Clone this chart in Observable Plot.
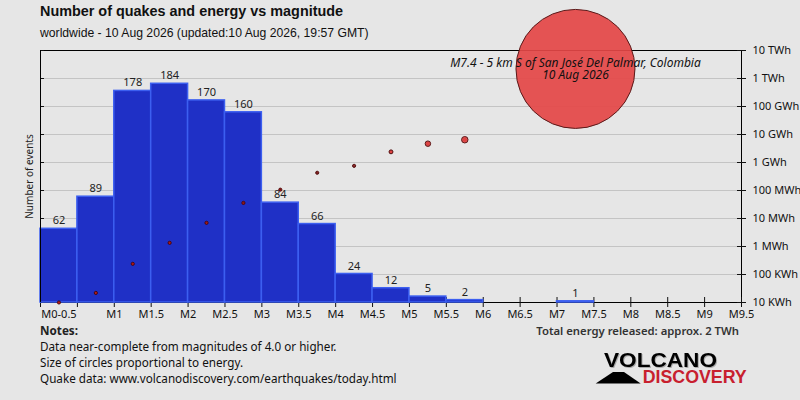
<!DOCTYPE html>
<html><head><meta charset="utf-8">
<script src="https://cdn.jsdelivr.net/npm/d3@7"></script>
<script src="https://cdn.jsdelivr.net/npm/@observablehq/plot@0.6"></script>
<style>
body{margin:0;background:#e6e6e6;font-family:"Noto Sans",sans-serif;}
#wrap{position:relative;width:800px;height:400px;overflow:hidden;background:#e6e6e6}
#wrap svg.plotlayer{position:absolute;left:0;top:0}
.t{position:absolute;white-space:nowrap;color:#111;line-height:1}
</style></head><body>
<div id="wrap">
  <div class="t" style="left:40px;top:4px;font-family:'Liberation Sans',sans-serif;font-weight:bold;font-size:14.4px">Number of quakes and energy vs magnitude</div>
  <div class="t" style="left:40px;top:27px;font-family:'Liberation Sans',sans-serif;font-size:12.2px">worldwide - 10 Aug 2026 (updated:10 Aug 2026, 19:57 GMT)</div>
  <div class="t" style="left:40px;top:325px;font-size:11.7px;font-weight:bold;color:#222">Notes:</div>
  <div class="t" style="left:40px;top:341px;font-size:11.7px">Data near-complete from magnitudes of 4.0 or higher.</div>
  <div class="t" style="left:40px;top:357px;font-size:11.7px">Size of circles proportional to energy.</div>
  <div class="t" style="left:40px;top:373px;font-size:11.7px">Quake data: www.volcanodiscovery.com/earthquakes/today.html</div>
  <div class="t" style="right:61px;top:325px;font-size:11.3px;font-weight:600;color:#333">Total energy released: approx. 2 TWh</div>
  <svg style="position:absolute;left:580px;top:340px" width="180" height="55" viewBox="580 340 180 55">
    <polygon points="595.7,383.6 613,372 624,372 640.7,383.6" fill="#000"/>
    <text x="604" y="366.7" style="filter:drop-shadow(1px 1px 0 #aaa)" font-family="Liberation Sans" font-weight="bold" font-size="21" fill="#000" textLength="113" lengthAdjust="spacingAndGlyphs">VOLCANO</text>
    <text x="642.7" y="383.4" font-family="Liberation Sans" font-weight="bold" font-size="17.6" fill="#c8202e" textLength="104" lengthAdjust="spacingAndGlyphs">DISCOVERY</text>
  </svg>
</div>
<script>
// ---- data ----
const magLow  = [0, 0.5, 1, 1.5, 2, 2.5, 3, 3.5, 4, 4.5, 5, 5.5, 7];
const magHigh = [0.5, 1, 1.5, 2, 2.5, 3, 3.5, 4, 4.5, 5, 5.5, 6, 7.5];
const counts  = [62, 89, 178, 184, 170, 160, 84, 66, 24, 12, 5, 2, 1];

const energyMag = [0.25, 0.75, 1.25, 1.75, 2.25, 2.75, 3.25, 3.75, 4.25, 4.75, 5.25, 5.75, 7.25];
const energyKWh = [10, 22, 240, 1350, 7000, 36000, 107000, 430000, 760000, 2.4e6, 4.7e6, 6.5e6, 2.2e9];

const quakeMag = [7.25];
const quakeEnergy = [2.2e9];
const quakeLabel = ["M7.4 - 5 km S of San José Del Palmar, Colombia\n10 Aug 2026"];

const xTicks = [0,0.5,1,1.5,2,2.5,3,3.5,4,4.5,5,5.5,6,6.5,7,7.5,8,8.5,9,9.5];
const xLabelPos = [0.25,1,1.5,2,2.5,3,3.5,4,4.5,5,5.5,6,6.5,7,7.5,8,8.5,9,9.5];
const xLabels = ["M0-0.5","M1","M1.5","M2","M2.5","M3","M3.5","M4","M4.5","M5","M5.5","M6","M6.5","M7","M7.5","M8","M8.5","M9","M9.5"];

const energyTicks = [10,100,1e3,1e4,1e5,1e6,1e7,1e8,1e9,1e10];
const energyTickLabels = ["10 KWh","100 KWh","1 MWh","10 MWh","100 MWh","1 GWh","10 GWh","100 GWh","1 TWh","10 TWh"];

// ---- layout ----
const common = {
  width: 800, height: 400,
  marginTop: 50, marginRight: 59, marginBottom: 98, marginLeft: 40,
  className: "plotlayer",
  style: {background: "transparent", overflow: "visible", fontFamily: "Noto Sans", fontSize: "11px", color: "#111"}
};
const xOpt = {domain: [0, 9.5], axis: null};
const yEnergy = {type: "log", domain: [10, 1e10], axis: null};

const wrap = document.getElementById("wrap");

// layer 1: grid, frame, energy axis, x ticks
const layer1 = Plot.plot({
  ...common,
  x: xOpt, y: yEnergy,
  marks: [
    Plot.gridY(energyTicks.slice(1, -1), {stroke: "#c4c4c4", strokeOpacity: 1}),
    Plot.frame({stroke: "#000"}),
    Plot.axisY(energyTicks, {anchor: "right", tickSize: 0, tickPadding: 11, fontSize: 11, label: null,
      tickFormat: d => energyTickLabels[energyTicks.indexOf(d)]}),
    Plot.axisY(energyTicks, {anchor: "right", tickSize: 9, insetRight: 5, fill: "none", label: null}),
    Plot.axisY(energyTicks, {anchor: "left", tickSize: 4, insetLeft: 4, fill: "none", label: null}),
    Plot.axisX(xTicks, {anchor: "bottom", tickSize: 10, insetBottom: 5, fill: "none", label: null})
  ]
});
wrap.appendChild(layer1);

// layer 2: bars
const barMid = magLow.map((m, i) => (m + magHigh[i]) / 2);
const layer2 = Plot.plot({
  ...common,
  x: xOpt, y: {domain: [0, 212], axis: null},
  marks: [
    Plot.rectY(counts, {x1: magLow, x2: magHigh, y: counts, fill: "#1f30c6", stroke: "#3c5ff0", strokeWidth: 1.5}),
    Plot.ruleX([0], {stroke: "#000"}),
    Plot.text(counts, {x: barMid, y: counts, text: d => String(d), dy: -8, fontSize: 11, fill: "#222"}),
    Plot.text(["Number of events"], {frameAnchor: "left", textAnchor: "middle", rotate: -90, dx: -11, fontSize: 10, fill: "#222"}),
    Plot.axisX(xLabelPos, {anchor: "bottom", tickSize: 0, tickPadding: 8, fontSize: 11, label: null,
      tickFormat: d => xLabels[xLabelPos.indexOf(d)]})
  ]
});
wrap.appendChild(layer2);

// layer 3: energy circles
const layer3 = Plot.plot({
  ...common,
  x: xOpt, y: yEnergy,
  r: {type: "sqrt", domain: [0, 2.2e9], range: [0, 59.5]},
  marks: [
    Plot.dot(energyKWh, {x: energyMag, y: energyKWh, r: 1.6, fill: "#b81c1c", stroke: "#3a0000", strokeWidth: 0.8}),
    Plot.dot(energyKWh, {x: energyMag, y: energyKWh, r: energyKWh, fill: "#e44646", fillOpacity: 0.92, stroke: "#5a1a1a", strokeWidth: 1}),
    Plot.text(quakeLabel, {x: quakeMag, y: quakeEnergy, text: d => d, fontSize: 12, fontStyle: "italic", lineHeight: 1, fill: "#111"})
  ]
});
wrap.appendChild(layer3);
</script>
</body></html>
